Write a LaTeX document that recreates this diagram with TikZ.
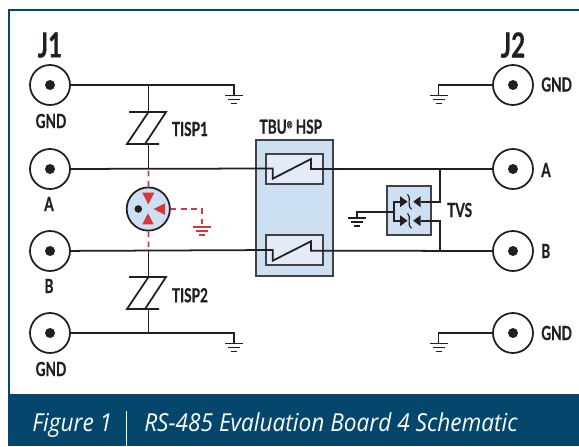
\documentclass[tikz,border=0pt]{standalone}
\usepackage{fontspec}
\newfontfamily\labelfont[FakeStretch=0.7,FakeBold=0.6]{Lato Bold}
\newfontfamily\capfont[FakeStretch=0.915]{Open Sans Italic}
\definecolor{bandblue}{HTML}{04466C}
\definecolor{boxblue}{HTML}{CDDFF3}
\definecolor{swblue}{HTML}{E3EBF8}
\definecolor{wirered}{HTML}{D2383F}
\definecolor{wire}{HTML}{231F20}
\tikzset{
  gndsym/.pic={
    \draw (-9,0) -- (9,0);
    \draw (-6,-4) -- (6,-4);
    \draw (-3,-8) -- (3,-8);
  },
  tispsym/.pic={
    \draw (-19.5,16) -- (17.5,16) -- (-3.5,-16);
    \draw (0,16) -- (-21.5,-16) -- (10.5,-16);
  }
}
\begin{document}
\begin{tikzpicture}[x=0.25mm,y=0.25mm]
  \tikzstyle{every node}+=[inner sep=0pt,text=wire]
  \tikzstyle{wireline}=[draw=wire,line width=1.25pt]
  \tikzstyle{redline}=[draw=wirered,line width=1.25pt,dash pattern=on 4pt off 3.2pt]
  \tikzstyle{port}=[circle,draw=wire,line width=1.25pt,minimum size=10mm]
  \tikzstyle{boxline}=[draw=wire!85,line width=1.4pt]
  \tikzstyle{smalltext}=[font=\labelfont\fontsize{13.8}{14}\selectfont]
  \tikzstyle{bigtext}=[font=\labelfont\fontsize{24.6}{25}\selectfont]
  \tikzstyle{captext}=[font=\capfont\fontsize{17.6}{18}\selectfont,text=white,anchor=base west]
  \useasboundingbox (0,0) rectangle (579,-446);
  % frame and caption band
  \fill [bandblue] (8,-394) rectangle (579,-446);
  \draw [bandblue,line width=1.5pt] (579,-10) -- (9,-10) -- (9,-394);
  \draw [white,line width=0.6pt] (126.7,-411) -- (126.7,-446);
  \draw (32,-431) node (figno) [captext] {Figure 1};
  \draw (144,-431) node (figtitle) [captext] {RS-485 Evaluation Board 4 Schematic};
  % connectors
  \draw (50,-85) node (j1gnda) [port] {};
  \draw (50,-169) node (j1a) [port] {};
  \draw (50,-251) node (j1b) [port] {};
  \draw (50,-333) node (j1gndb) [port] {};
  \draw (513,-85) node (j2gnda) [port] {};
  \draw (513,-169) node (j2a) [port] {};
  \draw (513,-251) node (j2b) [port] {};
  \draw (513,-333) node (j2gndb) [port] {};
  \foreach \p in {j1gnda,j1a,j1b,j1gndb,j2gnda,j2a,j2b,j2gndb}
    \fill [wire] (\p) circle (5);
  \draw (50,-45) node (j1) [bigtext] {J1};
  \draw (513,-45) node (j2) [bigtext] {J2};
  \draw (51,-121) node (lgnda) [smalltext] {GND};
  \draw (49,-204) node (la) [smalltext] {A};
  \draw (49,-286) node (lb) [smalltext] {B};
  \draw (51,-369) node (lgndb) [smalltext] {GND};
  \draw (541,-84.5) node (rgnda) [smalltext,anchor=west] {GND};
  \draw (541,-170) node (ra) [smalltext,anchor=west] {A};
  \draw (541,-251) node (rb) [smalltext,anchor=west] {B};
  \draw (541,-333) node (rgndb) [smalltext,anchor=west] {GND};
  % grounds
  \coordinate (g1) at (234,-95.5);
  \coordinate (g2) at (234,-343.5);
  \coordinate (g3) at (438.5,-95.5);
  \coordinate (g4) at (438.5,-343.5);
  \coordinate (g5) at (357.3,-218.3);
  \coordinate (g6) at (201.7,-226.7);
  \foreach \g in {g1,g2,g3,g4,g5}
    \draw [wireline] (\g) pic {gndsym};
  \draw [draw=wirered,line width=1.25pt] (g6) pic {gndsym};
  % TISP parts
  \coordinate (t1) at (148.5,-128);
  \coordinate (t2) at (148.5,-293);
  \coordinate (t1top) at (148.5,-112);
  \coordinate (t1bot) at (148.5,-144);
  \coordinate (t2top) at (148.5,-277);
  \coordinate (t2bot) at (148.5,-309);
  \draw [wireline] (t1) pic {tispsym};
  \draw [wireline] (t2) pic {tispsym};
  \draw (171.7,-129) node (ltisp1) [smalltext,anchor=west] {TISP1};
  \draw (171.7,-295.3) node (ltisp2) [smalltext,anchor=west] {TISP2};
  \coordinate (ja) at (148.5,-168.5);
  \coordinate (jb) at (148.5,-250);
  \coordinate (jgnda) at (148.5,-85);
  \coordinate (jgndb) at (148.5,-333);
  % TBU block
  \draw (294.2,-208.2) node (tbu) [boxline,fill=boxblue,minimum width=19.25mm,minimum height=34.1mm] {};
  \draw (294.5,-169) node (swa) [boxline,fill=swblue,minimum width=14.4mm,minimum height=7.45mm] {};
  \draw (294.5,-250.3) node (swb) [boxline,fill=swblue,minimum width=14.4mm,minimum height=7.45mm] {};
  \draw (259.3,-126.7) node (ltbu) [smalltext,anchor=west] {TBU\raisebox{0.55ex}{\fontsize{7}{7}\selectfont ®} HSP};
  % TVS block
  \draw (408.8,-210.5) node (tvs) [boxline,fill=boxblue,minimum width=10.9mm,minimum height=12.4mm] {};
  \draw (447,-210) node (ltvs) [smalltext,anchor=west] {TVS};
  \coordinate (tvsa) at (400,-201.7);
  \coordinate (tvsb) at (400,-220.7);
  \coordinate (tvsc) at (420.7,-201.7);
  \coordinate (tvsd) at (420.7,-220.7);
  \coordinate (tvsl) at (394,-211.7);
  \coordinate (ra1) at (440,-169);
  \coordinate (rb1) at (440,-250.7);
  \foreach \y in {201.7,220.7} {
    \fill [wire] (400,-\y+5.5) -- (407.5,-\y) -- (400,-\y-5.5);
    \fill [wire] (420.7,-\y+5.5) -- (413.2,-\y) -- (420.7,-\y-5.5);
    \draw [wire,line width=0.8pt] (407.6,-\y+7.5) .. controls (412,-\y+3) and (406,-\y-3) .. (411.6,-\y-7.5);
  }
  % wiring
  \draw [wireline] (j1gnda) -- (234,-85) -- (g1);
  \draw [wireline] (j1gndb) -- (234,-333) -- (g2);
  \draw [wireline] (j2gnda) -- (438.5,-85) -- (g3);
  \draw [wireline] (j2gndb) -- (438.5,-333) -- (g4);
  \draw [wireline] (jgnda) -- (t1top);
  \draw [wireline] (t1bot) -- (ja);
  \draw [wireline] (jb) -- (t2top);
  \draw [wireline] (t2bot) -- (jgndb);
  \draw [wireline] (j1a) -- (272.7,-168.5) -- (272.7,-178.7) -- (311,-159) -- (311,-169) -- (j2a);
  \draw [wireline] (j1b) -- (272.7,-250) -- (272.7,-260.7) -- (311,-241.3) -- (311,-250.7) -- (j2b);
  \draw [wireline] (ra1) |- (tvsc);
  \draw [wireline] (rb1) |- (tvsd);
  \draw [wireline] (g5) |- (tvsl);
  \draw [wireline] (tvsa) -| (tvsb -| tvsl) -- (tvsb);
  % gas tube
  \draw (148.3,-209) node (gdt) [circle,draw=wire,line width=1.25pt,fill=boxblue,minimum size=10.8mm] {};
  \fill [wire] (138.3,-209) circle (3.8);
  \fill [wirered] (142.3,-192.7) -- (154.3,-192.7) -- (148.3,-204.3);
  \fill [wirered] (142.3,-224.3) -- (153.7,-224.3) -- (148,-213.3);
  \fill [wirered] (165,-203.3) -- (165,-215) -- (153.7,-209);
  \draw [redline] (gdt) -- (ja);
  \draw [redline] (gdt) -- (jb);
  \draw [redline] (gdt) -- (201.7,-209) -- (g6);
\end{tikzpicture}
\end{document}
